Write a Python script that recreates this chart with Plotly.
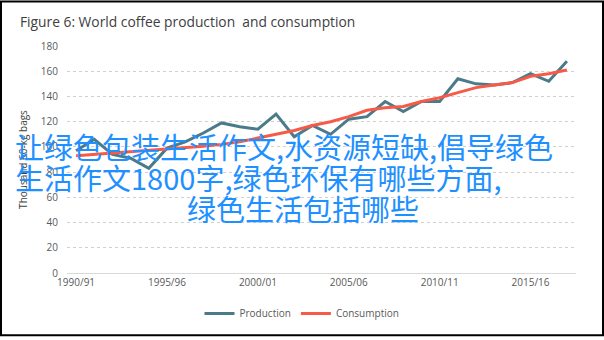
import plotly.graph_objects as go

# Crop years and world coffee balance (thousand 60-kg bags, in thousands)
seasons = [f"{y}/{str(y + 1)[-2:]}" for y in range(1990, 2018)]
production = [97, 106, 94, 91, 83, 99, 104, 111, 119, 116, 114, 126, 108, 117,
              110, 122, 124, 136, 128, 136, 136, 154, 150, 149, 151, 158, 152, 168]
consumption = [93, 94, 95, 96, 97, 98, 99, 100.5, 102, 104, 107, 110, 113, 117,
               120, 124, 129, 131, 132, 136, 139, 143, 147, 149, 151, 156, 158, 161]
tick_labels = ["1990/91", "1995/96", "2000/01", "2005/06", "2010/11", "2015/16"]
y_ticks = list(range(0, 181, 20))

overlay_lines = [
    "让绿色包装生活作文,水资源短缺,倡导绿色",
    "生活作文1800字,绿色环保有哪些方面,",
    "绿色生活包括哪些",
]

W, H = 604, 340
L, R, T, B = 67, 28, 46, 64
PW, PH = W - L - R, H - T - B


def px(x):
    return (x - L) / PW


def py(y):
    return (H - B - y) / PH


fig = go.Figure()
fig.add_trace(go.Scatter(x=seasons, y=production, mode="lines", name="Production",
                         line=dict(color="#4B7B8B", width=3)))
fig.add_trace(go.Scatter(x=seasons, y=consumption, mode="lines", name="Consumption",
                         line=dict(color="#F55B47", width=3)))

fig.update_layout(
    width=W, height=H,
    margin=dict(l=L, r=R, t=T, b=B),
    paper_bgcolor="white", plot_bgcolor="white",
    font=dict(family="Open Sans", size=10, color="#595959"),
    title=dict(text="Figure 6: World coffee production  and consumption",
               x=20 / W, xanchor="left", xref="container",
               y=1 - 22 / H, yanchor="middle", yref="container",
               font=dict(family="Open Sans", size=13.8, color="#404040")),
    legend=dict(orientation="h", x=px(302), xanchor="center",
                y=py(317), yanchor="middle",
                font=dict(size=10, color="#595959"),
                itemwidth=30),
    xaxis=dict(type="category", range=[-0.5, len(seasons) - 0.5],
               tickmode="array", tickvals=tick_labels, ticktext=tick_labels,
               showgrid=False, showline=True, linecolor="#D9D9D9", linewidth=1,
               ticks="", tickfont=dict(size=10, color="#595959")),
    yaxis=dict(range=[0, 180], tickvals=y_ticks, showline=False,
               gridcolor="#D0D0D0", griddash="dot", gridwidth=1,
               zeroline=False, ticks="", ticklabelstandoff=8,
               title=dict(text="Thousand 60-kg bags", standoff=11,
                          font=dict(size=10, color="#404040"))),
)

# outer frame of the figure
fig.add_shape(type="rect", xref="paper", yref="paper",
              x0=px(1), x1=px(W - 1), y0=py(H - 1), y1=py(1),
              line=dict(color="black", width=2), fillcolor="rgba(0,0,0,0)")

# blue headline text laid over the chart
line_pos = [(13, 147, "left"), (13, 179, "left"), (303, 210, "center")]
for text, (x, y, anchor) in zip(overlay_lines, line_pos):
    fig.add_annotation(text=text, xref="paper", yref="paper",
                       x=px(x), y=py(y), xanchor=anchor, yanchor="middle",
                       showarrow=False,
                       font=dict(family="Noto Sans CJK SC", size=29,
                                 color="#1E90FF"))

fig.write_html("out.html")
